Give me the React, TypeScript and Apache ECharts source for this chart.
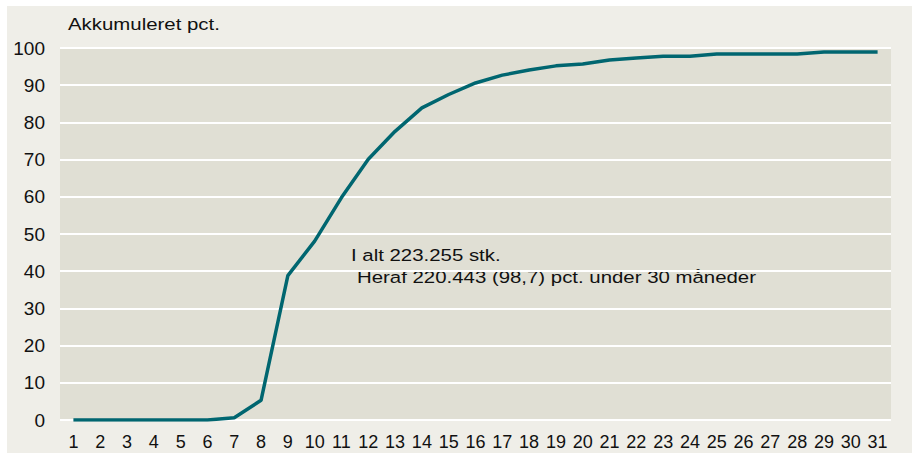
import React, { useEffect, useRef } from "react";
import * as echarts from "echarts";

const categories: string[] = Array.from({ length: 31 }, (_, i) => String(i + 1));
const cumulativePct: number[] = [
  0, 0, 0, 0, 0, 0, 0.6, 5.3, 38.8, 48.1, 59.8, 70.1, 77.6, 83.9, 87.5, 90.6,
  92.7, 94.1, 95.2, 95.7, 96.8, 97.3, 97.8, 97.8, 98.4, 98.4, 98.4, 98.4, 98.9,
  98.9, 98.9,
];
const yTicks = { min: 0, max: 100, interval: 10 };
const axisTitle = "Akkumuleret pct.";
const noteLine1 = "I alt 223.255 stk.";
const noteLine2 = "Heraf 220.443 (98,7) pct. under 30 måneder";

const FONT = "'Liberation Sans', Arial, sans-serif";

export default function App() {
  const ref = useRef<HTMLDivElement>(null);
  useEffect(() => {
    document.body.style.margin = "0";
    if (!ref.current) return;
    const chart = echarts.init(ref.current, null, { renderer: "svg" });
    const txt = (text: string, x: number, y: number) => ({
      type: "text",
      x,
      y,
      scaleX: 1.2,
      style: {
        text,
        fontSize: 17,
        fill: "#111",
        fontFamily: FONT,
        verticalAlign: "middle",
        align: "left",
      },
    });
    chart.setOption({
      animation: false,
      textStyle: { fontFamily: FONT },
      grid: {
        left: 60,
        right: 21,
        top: 48,
        bottom: 33,
        show: true,
        backgroundColor: "#E0DFD4",
        borderWidth: 0,
      },
      xAxis: {
        type: "category",
        data: categories,
        boundaryGap: true,
        axisLine: { show: false },
        axisTick: { show: false },
        axisLabel: {
          color: "#111",
          fontSize: 18,
          fontFamily: FONT,
          margin: 13,
          interval: 0,
        },
      },
      yAxis: {
        type: "value",
        min: yTicks.min,
        max: yTicks.max,
        interval: yTicks.interval,
        axisLine: { show: false },
        axisTick: { show: false },
        axisLabel: { color: "#111", fontSize: 19, fontFamily: FONT, margin: 15 },
        splitLine: { lineStyle: { color: "#FFFFFF", width: 2 } },
      },
      graphic: [
        txt(axisTitle, 68, 24),
        txt(noteLine1, 351, 255),
        txt(noteLine2, 357, 277),
      ],
      series: [
        {
          type: "line",
          data: cumulativePct,
          symbol: "none",
          lineStyle: { color: "#006670", width: 3.5 },
          z: 3,
        },
      ],
    });
    return () => chart.dispose();
  }, []);
  return (
    <div style={{ position: "relative", width: 912, height: 453, background: "#FFFFFF" }}>
      <div
        style={{
          position: "absolute",
          left: 7,
          top: 6,
          width: 905,
          height: 447,
          background: "#EFEEE8",
        }}
      />
      <div ref={ref} style={{ position: "absolute", left: 0, top: 0, width: 912, height: 453 }} />
    </div>
  );
}
